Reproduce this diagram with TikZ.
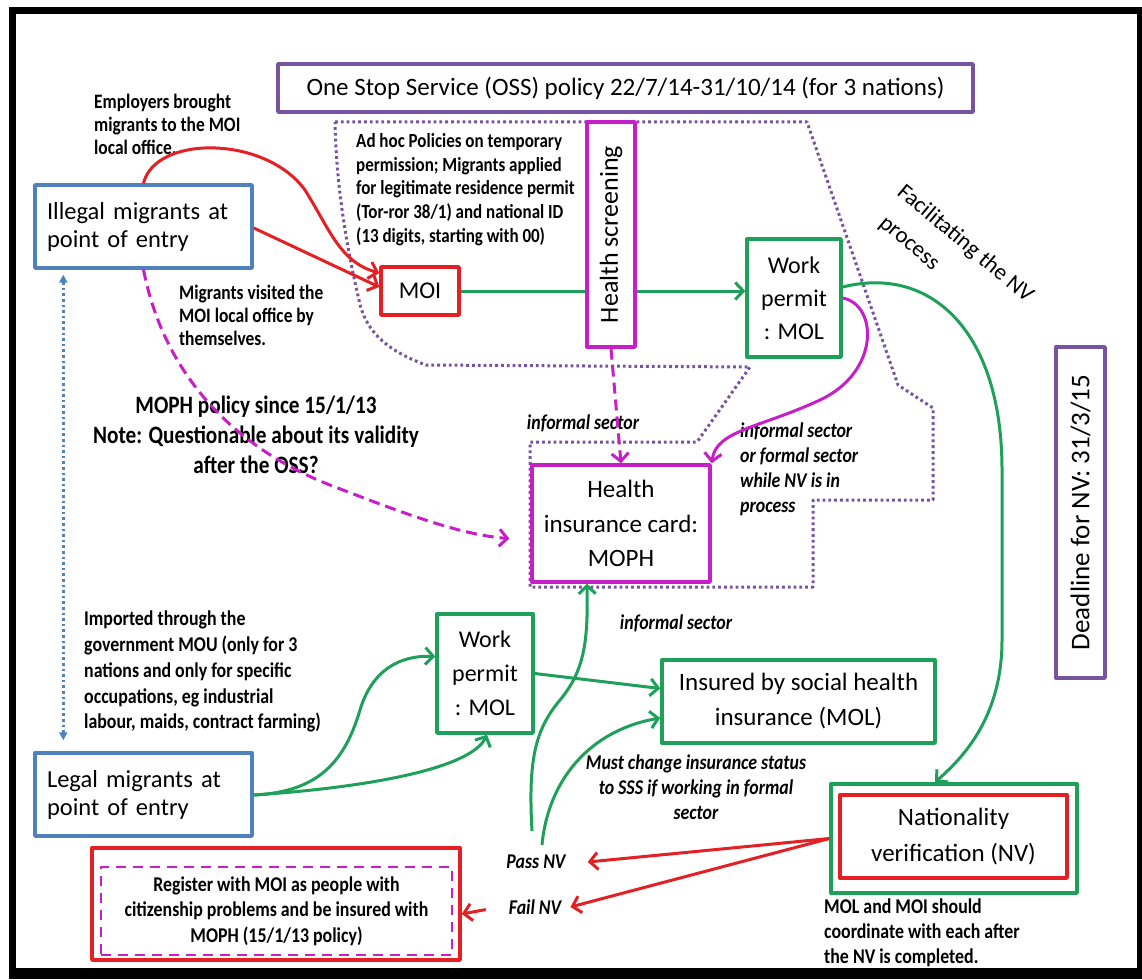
\documentclass[tikz,border=0pt]{standalone}
\usepackage{fontspec}
\setmainfont{Carlito}
\newfontfamily\cnd[FakeStretch=0.85]{Carlito}
\usetikzlibrary{arrows.meta,calc}
\newcommand{\myfs}[2]{\fontsize{#1}{#2}\selectfont}
\definecolor{cblue}{RGB}{79,129,189}
\definecolor{cred}{RGB}{228,32,36}
\definecolor{cgreen}{RGB}{30,160,90}
\definecolor{cmag}{RGB}{200,30,200}
\definecolor{cpur}{RGB}{118,84,160}
\begin{document}
\begin{tikzpicture}[x=1pt,y=-1pt,line join=round,
  box/.style={draw, line width=3.4pt, inner sep=0pt, align=center},
  arr/.style={line width=3pt, -{Straight Barb[length=8pt,width=17pt]}},
  ann/.style={font=\cnd\bfseries\myfs{20.5}{23}, inner sep=0pt, align=left},
  anni/.style={font=\cnd\bfseries\itshape\myfs{21}{25}, inner sep=0pt, align=left},
  dotb/.style={cpur, line width=3pt, dash pattern=on 2.8pt off 3pt},
  magdash/.style={cmag, dash pattern=on 11pt off 6pt}]
\useasboundingbox (0,0) rectangle (1142,979);
\fill[white] (0,0) rectangle (1142,979);
% frame
\fill[black] (9,7) rectangle (1142,14);
\fill[black] (9,7) rectangle (16,979);
\fill[black] (9,968) rectangle (1142,979);
\fill[black] (1137,7) rectangle (1142,979);

% OSS dotted region
\draw[dotb] (335,122) -- (807,122) -- (898,385) -- (933,408) -- (933,500) -- (813,500)
  -- (813,587) -- (530,587) -- (530,442) -- (697,442) -- (750,367) -- (426,365)
  .. controls (385,350) and (365,330) .. (359,300)
  .. controls (345,240) and (336,180) .. (335,122);

% boxes
\node[box, draw=cpur, minimum width=695pt, minimum height=48pt, font=\myfs{25}{30}] (oss) at (625.5,88) {One Stop Service (OSS) policy 22/7/14-31/10/14 (for 3 nations)};
\node[box, draw=cblue, minimum width=217pt, minimum height=83pt, text width=193pt, align=left, font=\myfs{24.5}{28}] (ill) at (143.5,226.5) {Illegal migrants at\\point of entry};
\node[box, draw=cred, minimum width=78pt, minimum height=48pt, font=\myfs{24}{28}] (moi) at (420,291) {MOI};
\node[box, draw=cmag, rotate=90, minimum width=225pt, minimum height=48pt, font=\myfs{26}{30}] (hs) at (611,234.5) {Health screening};
\node[box, draw=cgreen, minimum width=94pt, minimum height=118pt, font=\myfs{24}{33}] (wp1) at (794,298) {Work\\permit\\: MOL};
\node[box, draw=cmag, minimum width=178pt, minimum height=117pt, font=\myfs{25}{34.5}] (hi) at (621,523.5) {Health\\insurance card:\\MOPH};
\node[box, draw=cgreen, minimum width=96pt, minimum height=119pt, font=\myfs{24}{34}] (wp2) at (485,673.5) {Work\\permit\\: MOL};
\node[box, draw=cgreen, minimum width=273pt, minimum height=83pt, font=\myfs{25}{35}] (ins) at (798.5,701.5) {Insured by social health\\insurance (MOL)};
\node[box, draw=cblue, minimum width=217pt, minimum height=83pt, text width=193pt, align=left, font=\myfs{24.5}{28}] (leg) at (143.5,794.5) {Legal migrants at\\point of entry};
\node[box, draw=cgreen, minimum width=246pt, minimum height=109pt] (nvo) at (954,838.5) {};
\node[box, draw=cred, minimum width=227pt, minimum height=83pt, font=\myfs{25}{36}] (nv) at (953.5,836.5) {Nationality\\verification (NV)};
\node[box, draw=cred, minimum width=368pt, minimum height=112pt] (reg) at (276,904) {};
\node[box, draw=cmag, line width=2.8pt, dash pattern=on 10pt off 7pt, minimum width=351pt, minimum height=88pt, font=\cnd\bfseries\myfs{21}{25.5}] (regt) at (276.5,911) {Register with MOI as people with\\citizenship problems and be insured with\\MOPH (15/1/13 policy)};
\node[box, draw=cpur, rotate=90, minimum width=331pt, minimum height=49pt, font=\myfs{27}{30}] (dl) at (1080.5,512.5) {Deadline for NV: 31/3/15};

% annotations
\node[ann, anchor=west] (emp) at (94,124.7) {Employers brought\\migrants to the MOI\\local office.};
\node[ann, anchor=west, font=\cnd\bfseries\myfs{20}{23.75}] (adhoc) at (356,189.5) {Ad hoc Policies on temporary\\permission; Migrants applied\\for legitimate residence permit\\(Tor-ror 38/1) and national ID\\(13 digits, starting with 00)};
\node[ann, anchor=west] (visit) at (179,315) {Migrants visited the\\MOI local office by\\themselves.};
\node[ann, align=center, font=\cnd\bfseries\myfs{25}{30}] (moph) at (256,434.5) {MOPH policy since 15/1/13\\Note: Questionable about its validity\\after the OSS?};
\node[anni] (inf1) at (583,423) {informal sector};
\node[anni, anchor=west] (inf2) at (740,469.5) {informal sector\\or formal sector\\while NV is in\\process};
\node[anni] (inf3) at (676,623) {informal sector};
\node[ann, anchor=west, font=\cnd\bfseries\myfs{21}{25.75}] (imp) at (84,671.8) {Imported through the\\government MOU (only for 3\\nations and only for specific\\occupations, eg industrial\\labour, maids, contract farming)};
\node[anni, align=center] (must) at (696,787) {Must change insurance status\\to SSS if working in formal\\sector};
\node[anni, inner xsep=22pt] (pass) at (536,862) {Pass NV};
\node[anni, inner xsep=9pt] (fail) at (535,907) {Fail NV};
\node[ann, anchor=west, font=\cnd\bfseries\myfs{21}{25}] (mol) at (824,933) {MOL and MOI should\\coordinate with each after\\the NV is completed.};
\node[rotate=-40, anchor=base west, inner sep=0pt, font=\myfs{23}{28}] (fac1) at (896,194) {Facilitating the NV};
\node[rotate=-40, anchor=base west, inner sep=0pt, font=\myfs{23}{28}] (fac2) at (878,225) {process};

\coordinate (p1) at ($(pass.north)+(-4,-24)$);
\coordinate (p2) at ($(pass.north)+(6,-10)$);

% connectors
\draw[arr, cred] (ill.north) .. controls (155,135) and (265,135) .. (305,190)
  .. controls (330,230) and (340,262) .. ($(moi.west)+(0,-18)$);
\draw[arr, cred] ($(ill.east)+(0,1.5)$) -- ($(moi.west)+(0,-4)$);
\draw[line width=3pt, cgreen] (moi.east) -- (moi.east -| hs.north);
\draw[arr, cgreen] (moi.east -| hs.south) -- (moi.east -| wp1.west);
\draw[arr, magdash] (hs.west) -- (hi.north);
\draw[arr, magdash, shorten >=21pt] (ill.south) .. controls (165,380) and (240,450) .. (330,485)
  .. controls (400,512) and (460,535) .. ($(hi.west)+(0,16.5)$);
\draw[arr, cmag] (wp1.east) .. controls (878,305) and (880,372) .. (820,400)
  .. controls (760,428) and (716,430) .. (hi.north east);
\draw[arr, cgreen] ($(wp1.east)+(0,-11)$) .. controls (930,265) and (1002,330) .. (1002,470)
  -- (1002,640) .. controls (1002,720) and (960,760) .. ($(nvo.north)+(-19,0)$);
\draw[arr, cgreen] ($(leg.east)+(0,0.5)$) .. controls (320,792) and (345,760) .. (360,710)
  .. controls (372,670) and (400,655) .. ($(wp2.west)+(0,-17)$);
\draw[arr, cgreen] ($(leg.east)+(0,0.5)$) .. controls (360,788) and (470,770) .. ($(wp2.south)+(2,0)$);
\draw[arr, cgreen] (wp2.east) -- ($(ins.west)+(0,-13)$);
\draw[arr, cgreen] (p1) .. controls (528,760) and (535,730) .. (560,700)
  .. controls (585,670) and (588,640) .. ($(hi.south)+(-34,0)$);
\draw[arr, cgreen] (p2) .. controls (548,780) and (590,730) .. ($(ins.west)+(0,16.5)$);
\draw[arr, cred] (nvo.west) -- (pass.east);
\draw[arr, cred] (nvo.west) -- (fail.east);
\draw[arr, cred, shorten <=14pt] (fail.west) -- ($(reg.east)+(0,10)$);
\draw[cblue, line width=2.6pt, dash pattern=on 2.6pt off 3pt,
  {Triangle[length=8pt,width=8pt]}-{Triangle[length=8pt,width=8pt]},
  shorten <=5pt, shorten >=11pt] ($(ill.south west)+(30,0)$) -- ($(leg.north west)+(30,0)$);
\end{tikzpicture}
\end{document}
